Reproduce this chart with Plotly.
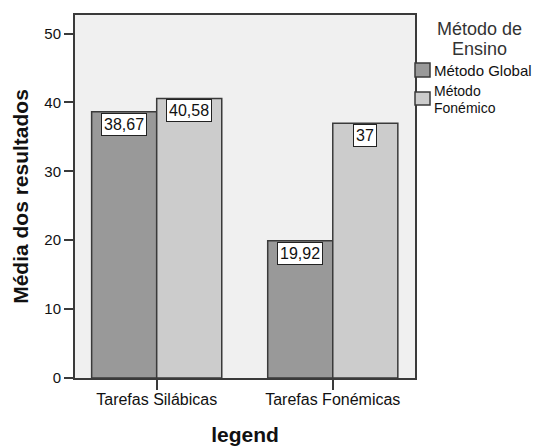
import plotly.graph_objects as go

# Data
categories = ["Tarefas Silábicas", "Tarefas Fonémicas"]
series_names = ["Método Global", "Método Fonémico"]
global_values = [38.67, 19.92]
fonemico_values = [40.58, 37]

FONT = "Liberation Sans, Arial, sans-serif"
W, H = 536, 446
ML, MR, MT, MB = 75, 121, 15, 68
PW, PH = W - ML - MR, H - MT - MB
BARGAP = 0.261
colors = ["#999999", "#cccccc"]


def fmt(v):
    return f"{v:g}".replace(".", ",")


def px_x(px):
    return (px - ML) / PW


def px_y(py):
    return (H - MB - py) / PH


fig = go.Figure()
for name, vals, col in zip(series_names, [global_values, fonemico_values], colors):
    fig.add_trace(go.Bar(
        x=categories, y=vals, name=name,
        marker=dict(color=col, line=dict(color="#3a3a3a", width=1.5)),
        hoverinfo="skip",
    ))

# value boxes at the top of each bar
half = (1 - BARGAP) / 4
for k, vals in enumerate([global_values, fonemico_values]):
    off = -half if k == 0 else half
    for i, v in enumerate(vals):
        fig.add_annotation(
            x=i + off, y=v, xref="x", yref="y",
            text=fmt(v), showarrow=False,
            yanchor="top", xanchor="center", yshift=-1,
            font=dict(family=FONT, size=16, color="#111111"),
            bgcolor="white", bordercolor="#222222", borderwidth=1, borderpad=2,
        )

# legend drawn beside the plot area
fig.add_annotation(x=px_x(479), y=px_y(29), xref="paper", yref="paper",
                   text="Método de", showarrow=False, xanchor="center", yanchor="middle",
                   font=dict(family=FONT, size=18, color="#333333"))
fig.add_annotation(x=px_x(479), y=px_y(49), xref="paper", yref="paper",
                   text="Ensino", showarrow=False, xanchor="center", yanchor="middle",
                   font=dict(family=FONT, size=18, color="#333333"))

swatches = [(63, 77), (92, 105)]
for (y0, y1), col in zip(swatches, colors):
    fig.add_shape(type="rect", xref="paper", yref="paper",
                  x0=px_x(415), x1=px_x(430), y0=px_y(y1), y1=px_y(y0),
                  fillcolor=col, line=dict(color="#3a3a3a", width=1.5))

legend_lines = [("Método Global", 70, 15), ("Método", 91.5, 14), ("Fonémico", 108, 14)]
for txt, yc, fs in legend_lines:
    fig.add_annotation(x=px_x(432), y=px_y(yc), xref="paper", yref="paper",
                       text=txt, showarrow=False, xanchor="left", yanchor="middle",
                       font=dict(family=FONT, size=fs, color="#111111"))

fig.update_layout(
    width=W, height=H,
    margin=dict(l=ML, r=MR, t=MT, b=MB, pad=0, autoexpand=False),
    paper_bgcolor="white", plot_bgcolor="#f0f0f0",
    barmode="group", bargap=BARGAP, bargroupgap=0,
    showlegend=False,
    font=dict(family=FONT, color="#111111"),
)
fig.update_xaxes(
    range=[-0.464, 1.467], showgrid=False, zeroline=False, automargin=False,
    showline=True, linecolor="#3a3a3a", linewidth=2, mirror=True,
    ticks="outside", ticklen=10, tickwidth=1.5, tickcolor="#3a3a3a",
    ticklabelstandoff=-4,
    tickfont=dict(family=FONT, size=16, color="#111111"),
    title=dict(text="legend", font=dict(family=FONT, size=21, color="#111111", weight="bold"), standoff=20),
)
fig.update_yaxes(
    range=[0, 52.7], showgrid=False, zeroline=False, automargin=False,
    showline=True, linecolor="#3a3a3a", linewidth=2, mirror=True,
    ticks="outside", ticklen=9, tickwidth=1.5, tickcolor="#3a3a3a",
    tickvals=[0, 10, 20, 30, 40, 50],
    tickfont=dict(family=FONT, size=15, color="#111111"),
    title=dict(text="Média dos resultados", font=dict(family=FONT, size=21, color="#111111", weight="bold"), standoff=10),
)

fig.write_html("out.html")
